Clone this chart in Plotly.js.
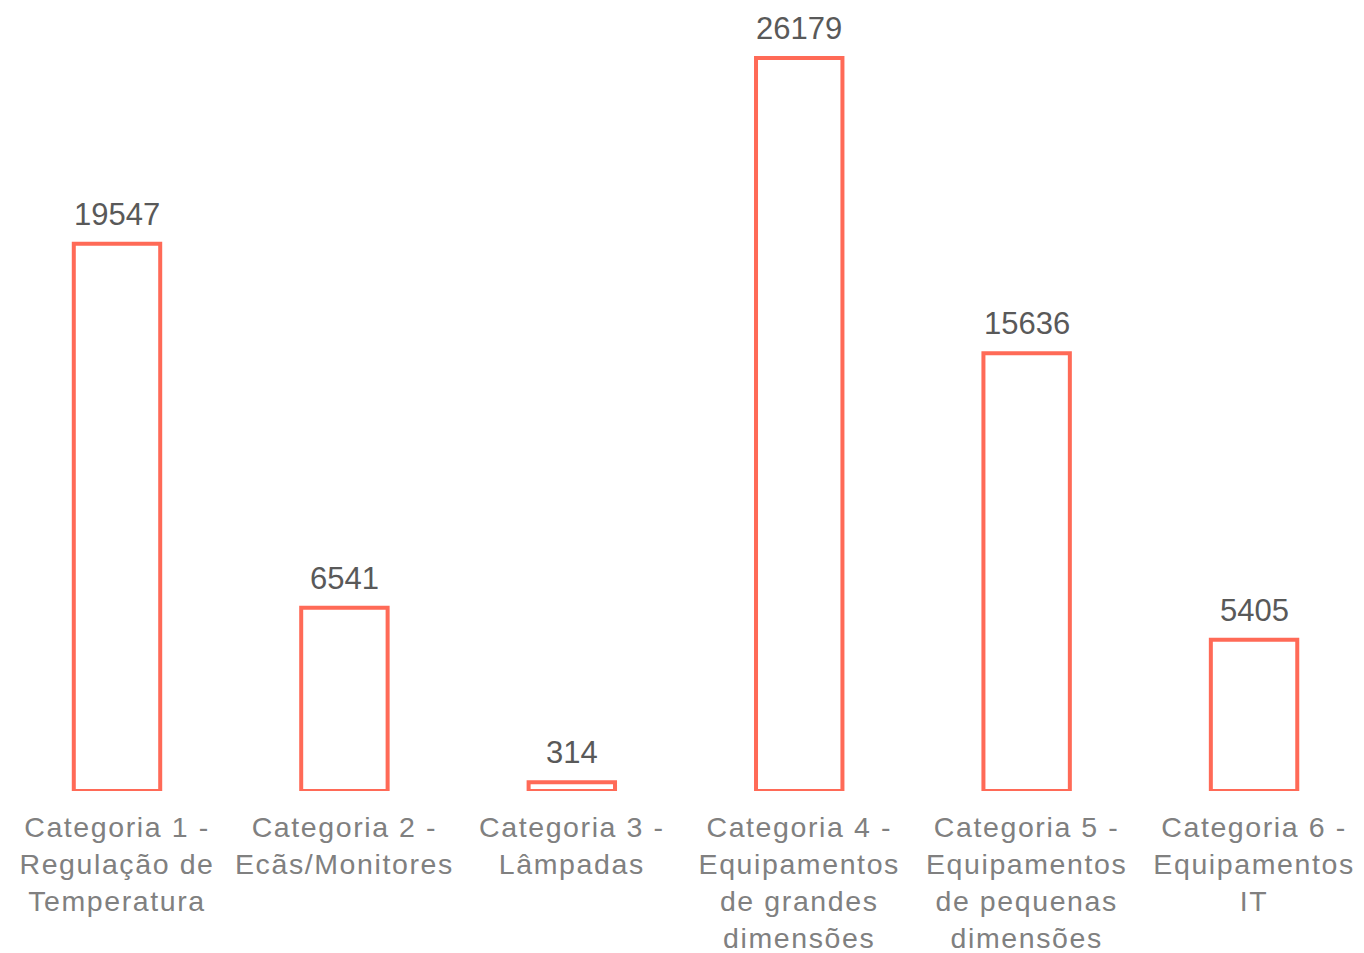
<!DOCTYPE html>
<html>
<head>
<meta charset="utf-8">
<script src="https://cdn.plot.ly/plotly-3.0.1.min.js"></script>
<style>
html,body{margin:0;padding:0;background:#fff;}
#chart{width:1364px;height:953px;}
#chart .xtick text{letter-spacing:1.6px;}
</style>
</head>
<body>
<div id="chart"></div>
<script>
const categories = [
  "Categoria 1 -<br>Regulação de<br>Temperatura",
  "Categoria 2 -<br>Ecãs/Monitores",
  "Categoria 3 -<br>Lâmpadas",
  "Categoria 4 -<br>Equipamentos<br>de grandes<br>dimensões",
  "Categoria 5 -<br>Equipamentos<br>de pequenas<br>dimensões",
  "Categoria 6 -<br>Equipamentos<br>IT"
];
const values = [19547, 6541, 314, 26179, 15636, 5405];

const FONT = 'Liberation Sans, Arial, sans-serif';

const trace = {
  type: 'bar',
  x: categories,
  y: values,
  marker: {color: '#ffffff', line: {color: '#FF6A57', width: 4}},
  hoverinfo: 'none'
};

const annotations = categories.map((c, i) => ({
  x: c, y: values[i], xref: 'x', yref: 'y',
  text: String(values[i]),
  showarrow: false,
  yanchor: 'bottom',
  yshift: 10,
  font: {family: FONT, size: 31, color: '#595959'}
}));

const layout = {
  width: 1364, height: 953,
  margin: {l: 0, r: 0, t: 0, b: 162},
  paper_bgcolor: '#ffffff', plot_bgcolor: '#ffffff',
  bargap: 0.62,
  showlegend: false,
  xaxis: {
    type: 'category',
    range: [-0.5145, 5.4835],
    showgrid: false, zeroline: false, showline: false, ticks: '',
    tickfont: {family: FONT, size: 28.5, color: '#808080'},
    ticklabelstandoff: 16,
    automargin: false
  },
  yaxis: {
    range: [0, 28250],
    showgrid: false, zeroline: false, showline: false,
    showticklabels: false, ticks: ''
  },
  annotations: annotations
};

Plotly.newPlot('chart', [trace], layout, {displayModeBar: false, staticPlot: true});
</script>
</body>
</html>
